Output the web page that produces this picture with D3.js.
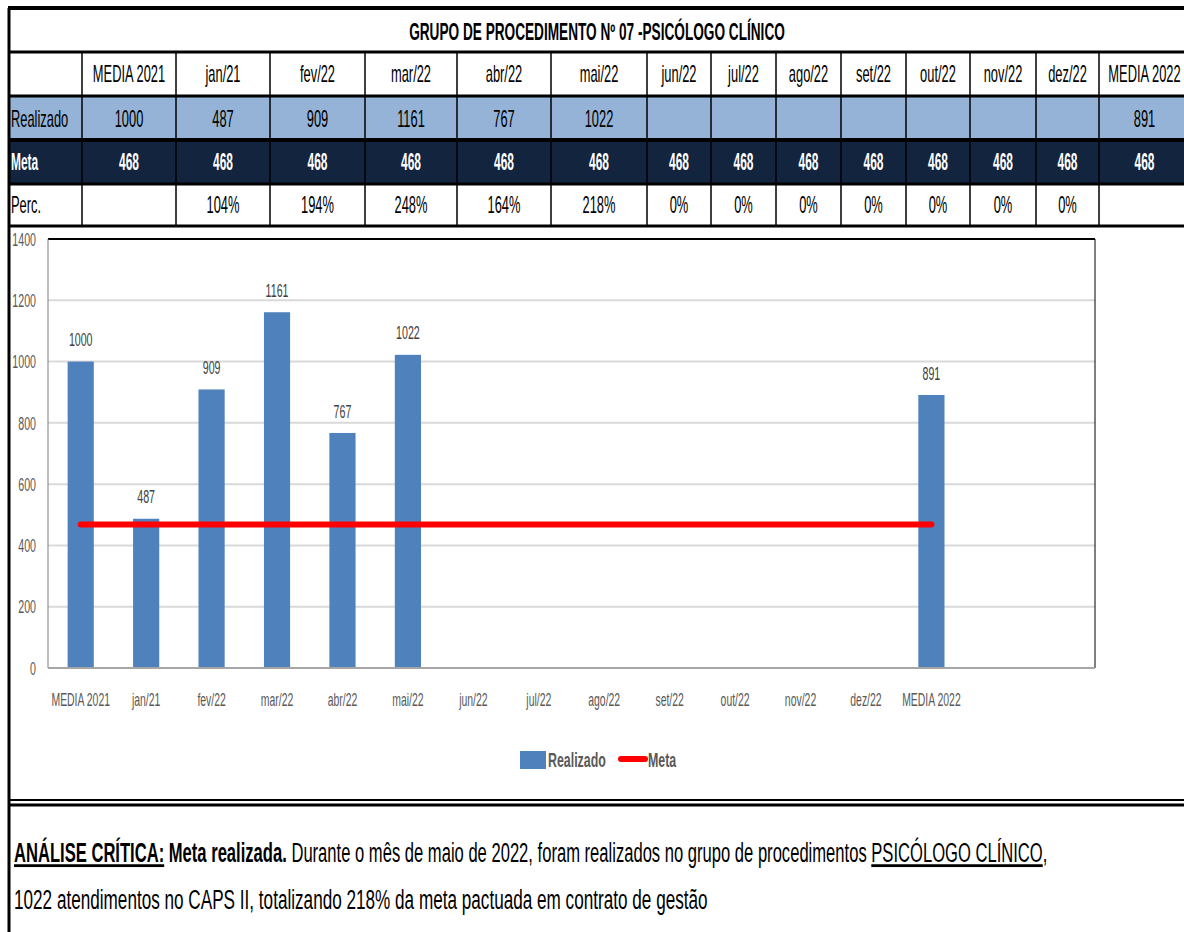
<!DOCTYPE html>
<html>
<head>
<meta charset="utf-8">
<script src="https://cdn.jsdelivr.net/npm/d3@7"></script>
<style>
  body { margin: 0; background: #fff; }
  svg { display: block; font-family: "Liberation Sans", Arial, sans-serif; }
</style>
</head>
<body>
<svg id="chart" width="1184" height="932"></svg>
<script>
// Data
const title = 'GRUPO DE PROCEDIMENTO Nº 07 -PSICÓLOGO CLÍNICO';
const columns = ['MEDIA 2021', 'jan/21', 'fev/22', 'mar/22', 'abr/22', 'mai/22', 'jun/22', 'jul/22', 'ago/22', 'set/22', 'out/22', 'nov/22', 'dez/22', 'MEDIA 2022'];
const realizado = [1000, 487, 909, 1161, 767, 1022, null, null, null, null, null, null, null, 891];
const meta = [468, 468, 468, 468, 468, 468, 468, 468, 468, 468, 468, 468, 468, 468];
const perc = ['', '104%', '194%', '248%', '164%', '218%', '0%', '0%', '0%', '0%', '0%', '0%', '0%', ''];
// chart has two empty slots after MEDIA 2022
const chartCategories = columns.concat(['', ' ']);
const yTicks = [0, 200, 400, 600, 800, 1000, 1200, 1400];

const svg = d3.select('#chart');
const SX = 0.56;  // horizontal squeeze to mimic a condensed font

function txt(g, x, y, str, o = {}) {
    const t = g.append('text')
        .attr('transform', `translate(${x},${y}) scale(${o.sx || SX},1)`)
        .attr('text-anchor', o.anchor || 'middle')
        .attr('dy', '0.35em')
        .style('font-size', (o.size || 18) + 'px')
        .style('font-weight', o.bold ? 'bold' : 'normal')
        .style('fill', o.fill || '#000')
        .text(str);
    return t;
}

// ---- Table ----
const colEdges = [8, 82, 176, 270, 365, 457, 551, 647, 711, 776, 841, 906, 970, 1036, 1099, 1190];
const rowEdges = [8, 52, 96, 140, 184, 226];
const table = svg.append('g');

table.append('rect').attr('x', 8).attr('y', 140).attr('width', 1182).attr('height', 44).attr('fill', '#13243F');
table.append('rect').attr('x', 8).attr('y', 96).attr('width', 1182).attr('height', 44).attr('fill', '#95B3D7');

// horizontal lines
rowEdges.forEach((y, i) => {
    table.append('line').attr('x1', 8).attr('x2', 1184).attr('y1', y).attr('y2', y)
        .attr('stroke', '#000').attr('stroke-width', i === 0 || i === 3 ? 4 : 3);
});
// vertical lines
table.append('line').attr('x1', 9).attr('x2', 9).attr('y1', 8).attr('y2', 226).attr('stroke', '#000').attr('stroke-width', 3);
colEdges.slice(1, -1).forEach(x => {
    table.append('line').attr('x1', x).attr('x2', x).attr('y1', 52).attr('y2', 226)
        .attr('stroke', '#000').attr('stroke-width', 1.5);
});

// title squeezed to the width it takes in the reference
const tt = table.append('text').attr('text-anchor', 'middle').attr('dy', '0.35em')
    .style('font-size', '23px').style('font-weight', 'bold').text(title);
tt.attr('transform', `translate(597,32) scale(${376 / tt.node().getComputedTextLength()},1)`);

const cx = i => (colEdges[i + 1] + colEdges[i + 2]) / 2;
columns.forEach((c, i) => {
    txt(table, cx(i), 74, c, { size: 23 });
    if (realizado[i] != null) txt(table, cx(i), 119, realizado[i], { size: 23 });
    txt(table, cx(i), 162, meta[i], { size: 23, bold: true, fill: '#fff', sx: 0.52 });
    if (perc[i]) txt(table, cx(i), 205, perc[i], { size: 23 });
});
txt(table, 11, 119, 'Realizado', { size: 23, anchor: 'start' });
txt(table, 11, 162, 'Meta', { size: 23, anchor: 'start', bold: true, fill: '#fff', sx: 0.52 });
txt(table, 11, 205, 'Perc.', { size: 23, anchor: 'start' });

// ---- Chart ----
const plot = { left: 48, right: 1095, top: 239, bottom: 668 };
const x = d3.scaleBand().domain(chartCategories).range([plot.left, plot.right]).paddingInner(0.6).paddingOuter(0.3);
const y = d3.scaleLinear().domain([0, 1400]).range([plot.bottom, plot.top]);

const chart = svg.append('g');

// chart frame (left border, bottom double line)
chart.append('line').attr('x1', 9).attr('x2', 9).attr('y1', 226).attr('y2', 932).attr('stroke', '#000').attr('stroke-width', 3);
chart.append('line').attr('x1', 8).attr('x2', 1184).attr('y1', 800).attr('y2', 800).attr('stroke', '#000').attr('stroke-width', 2);
chart.append('line').attr('x1', 8).attr('x2', 1184).attr('y1', 805).attr('y2', 805).attr('stroke', '#000').attr('stroke-width', 3);

// gridlines
chart.selectAll('.grid').data(yTicks.filter(t => t > 0 && t < 1400)).enter().append('line')
    .attr('x1', plot.left).attr('x2', plot.right)
    .attr('y1', d => y(d)).attr('y2', d => y(d))
    .attr('stroke', '#D9D9D9').attr('stroke-width', 2);
// top border and right border
chart.append('line').attr('x1', plot.left).attr('x2', plot.right).attr('y1', y(1400)).attr('y2', y(1400)).attr('stroke', '#000').attr('stroke-width', 2);
chart.append('line').attr('x1', plot.right).attr('x2', plot.right).attr('y1', y(1400)).attr('y2', y(0)).attr('stroke', '#000').attr('stroke-width', 1);
// axis lines
chart.append('line').attr('x1', plot.left).attr('x2', plot.left).attr('y1', y(1400)).attr('y2', y(0)).attr('stroke', '#7F7F7F').attr('stroke-width', 1);

// y labels
yTicks.forEach(t => txt(chart, 36, y(t), t, { size: 19, anchor: 'end', fill: '#595959' }));

// bars
const barData = chartCategories.map((c, i) => ({ c, v: realizado[i] })).filter(d => d.v != null);
chart.selectAll('.bar').data(barData).enter().append('rect')
    .attr('x', d => x(d.c)).attr('width', x.bandwidth())
    .attr('y', d => y(d.v)).attr('height', d => y(0) - y(d.v))
    .attr('fill', '#4F81BD');
barData.forEach(d => txt(chart, x(d.c) + x.bandwidth() / 2, y(d.v) - 22, d.v, { size: 19, fill: '#404040' }));

chart.append('line').attr('x1', plot.left).attr('x2', plot.right).attr('y1', y(0)).attr('y2', y(0)).attr('stroke', '#A6A6A6').attr('stroke-width', 2);

// meta line
const line = d3.line().x(d => x(d.c) + x.bandwidth() / 2).y(d => y(d.v));
chart.append('path')
    .datum(columns.map((c, i) => ({ c, v: meta[i] })))
    .attr('d', line)
    .attr('fill', 'none').attr('stroke', '#FF0000').attr('stroke-width', 6).attr('stroke-linecap', 'round');

// x labels
chartCategories.forEach(c => txt(chart, x(c) + x.bandwidth() / 2, 700, c, { size: 18, fill: '#595959', sx: 0.58 }));

// legend
chart.append('rect').attr('x', 520).attr('y', 751).attr('width', 26).attr('height', 18).attr('fill', '#4F81BD');
txt(chart, 548, 760, 'Realizado', { size: 20, anchor: 'start', bold: true, fill: '#595959', sx: 0.62 });
chart.append('line').attr('x1', 621).attr('x2', 645).attr('y1', 759).attr('y2', 759).attr('stroke', '#FF0000').attr('stroke-width', 6).attr('stroke-linecap', 'round');
txt(chart, 648, 760, 'Meta', { size: 20, anchor: 'start', bold: true, fill: '#595959', sx: 0.62 });

// ---- Analysis text ----
function fitLine(yPos, parts, width) {
    const t = svg.append('text').attr('dy', '0.35em').style('font-size', '28px').style('fill', '#000');
    parts.forEach(p => {
        t.append('tspan').text(p.t)
            .style('font-weight', p.bold ? 'bold' : 'normal')
            .style('text-decoration', p.u ? 'underline' : 'none');
    });
    const w = t.node().getComputedTextLength();
    t.attr('transform', `translate(14,${yPos}) scale(${width / w},1)`);
}
fitLine(852, [
    { t: 'ANÁLISE CRÍTICA:', bold: true, u: true },
    { t: ' Meta realizada.', bold: true },
    { t: ' Durante o mês de maio de 2022, foram realizados no grupo de procedimentos ' },
    { t: 'PSICÓLOGO CLÍNICO', u: true },
    { t: ',' }
], 1034);
fitLine(899, [
    { t: '1022 atendimentos no CAPS II, totalizando 218% da meta pactuada em contrato de gestão' }
], 694);
</script>
</body>
</html>
